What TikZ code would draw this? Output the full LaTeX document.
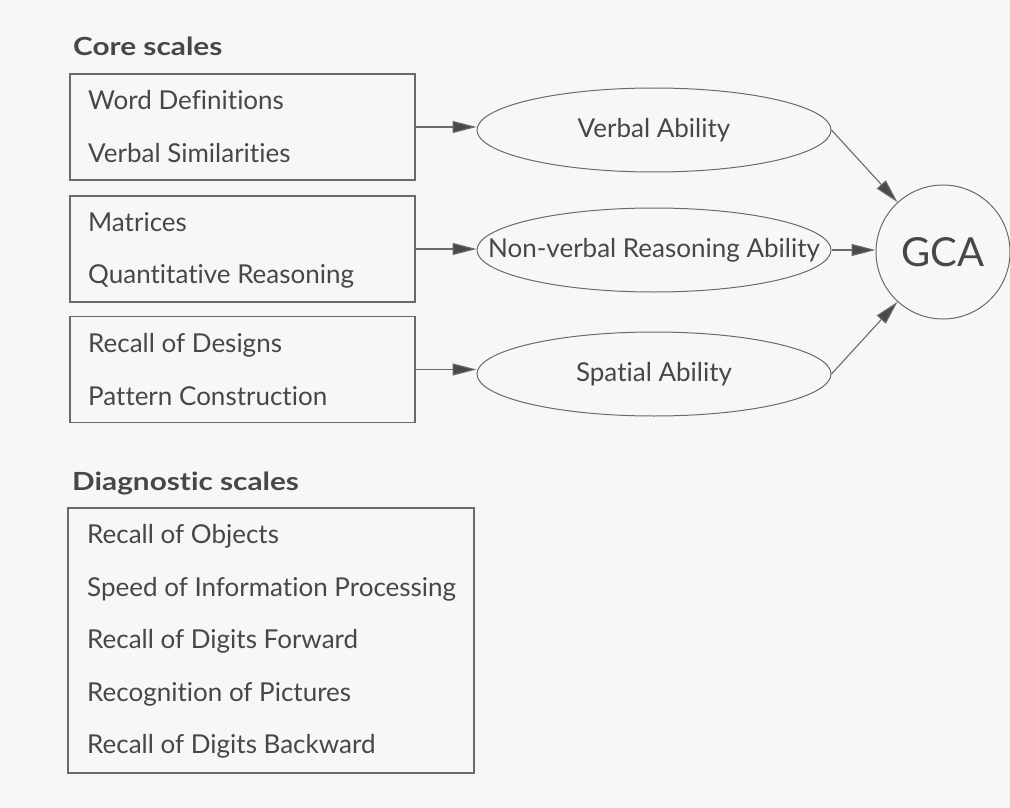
\documentclass[tikz,border=0pt]{standalone}
\usepackage{graphicx}
\usepackage{fontspec}
\setmainfont{Lato}[Ligatures=NoCommon]
\usetikzlibrary{shapes.geometric,arrows.meta}
\definecolor{bg}{HTML}{F7F7F7}
\definecolor{ink}{HTML}{474747}
\definecolor{edgec}{HTML}{6A6A6A}
\definecolor{tipc}{HTML}{4A4A4A}
\begin{document}
\begin{tikzpicture}[x=1pt,y=-1pt,
 box/.style={draw=edgec,line width=1.1pt,inner sep=0pt},
 item/.style={anchor=base west,inner sep=0pt,text=ink,font=\fontsize{26}{26}\selectfont},
 ttl/.style={anchor=base west,inner sep=0pt,text=ink,font=\fontsize{25}{25}\selectfont\bfseries},
 lbl/.style={text=ink,font=\fontsize{26}{26}\selectfont},
 oval/.style={draw=edgec,ellipse,line width=1pt,minimum width=354pt,minimum height=84pt,inner sep=0pt},
 arr/.style={draw=edgec,line width=1.1pt,-{Triangle[length=24pt,width=12pt,fill=tipc]}}]
\useasboundingbox[fill=bg] (0,0) rectangle (1010,808);

\node[ttl] (core) at (73,56) {\scalebox{1.19}[1]{Core scales}};
\node[box,minimum width=345pt,minimum height=106pt] (b1) at (242.5,127) {};
\node[box,minimum width=345pt,minimum height=106pt] (b2) at (242.5,249) {};
\node[box,minimum width=345pt,minimum height=106pt] (b3) at (242.5,369.5) {};
\node[item] (t1) at (88,110) {Word Definitions};
\node[item] (t2) at (88,162) {Verbal Similarities};
\node[item] (t3) at (88,231) {Matrices};
\node[item] (t4) at (88,283) {Quantitative Reasoning};
\node[item] (t5) at (88,352) {Recall of Designs};
\node[item] (t6) at (88,405) {Pattern Construction};

\node[oval,label={[lbl]center:Verbal Ability}] (va) at (654,130) {};
\node[oval,label={[lbl]center:Non-verbal Reasoning Ability}] (nv) at (654,250) {};
\node[oval,label={[lbl]center:Spatial Ability}] (sa) at (654,374) {};
\node[draw=edgec,circle,line width=1pt,minimum size=134pt,inner sep=0pt,text=ink,font=\fontsize{40}{40}\selectfont] (gca) at (943,252) {GCA};

\draw[arr] (b1.east) -- (b1.east -| va.west);
\draw[arr] (b2.east) -- (b2.east -| nv.west);
\draw[arr] (b3.east) -- (b3.east -| sa.west);
\draw[arr] (va.east) -- (gca);
\draw[arr] (nv.east) -- (nv.east -| gca.west);
\draw[arr] (sa.east) -- (gca);

\node[ttl] (diag) at (72,490) {\scalebox{1.19}[1]{Diagnostic scales}};
\node[box,minimum width=406pt,minimum height=265pt] (b4) at (271,640.5) {};
\node[item] (d1) at (87,543) {Recall of Objects};
\node[item] (d2) at (87,596) {Speed of Information Processing};
\node[item] (d3) at (87,648) {Recall of Digits Forward};
\node[item] (d4) at (87,701) {Recognition of Pictures};
\node[item] (d5) at (87,753) {Recall of Digits Backward};
\end{tikzpicture}
\end{document}
